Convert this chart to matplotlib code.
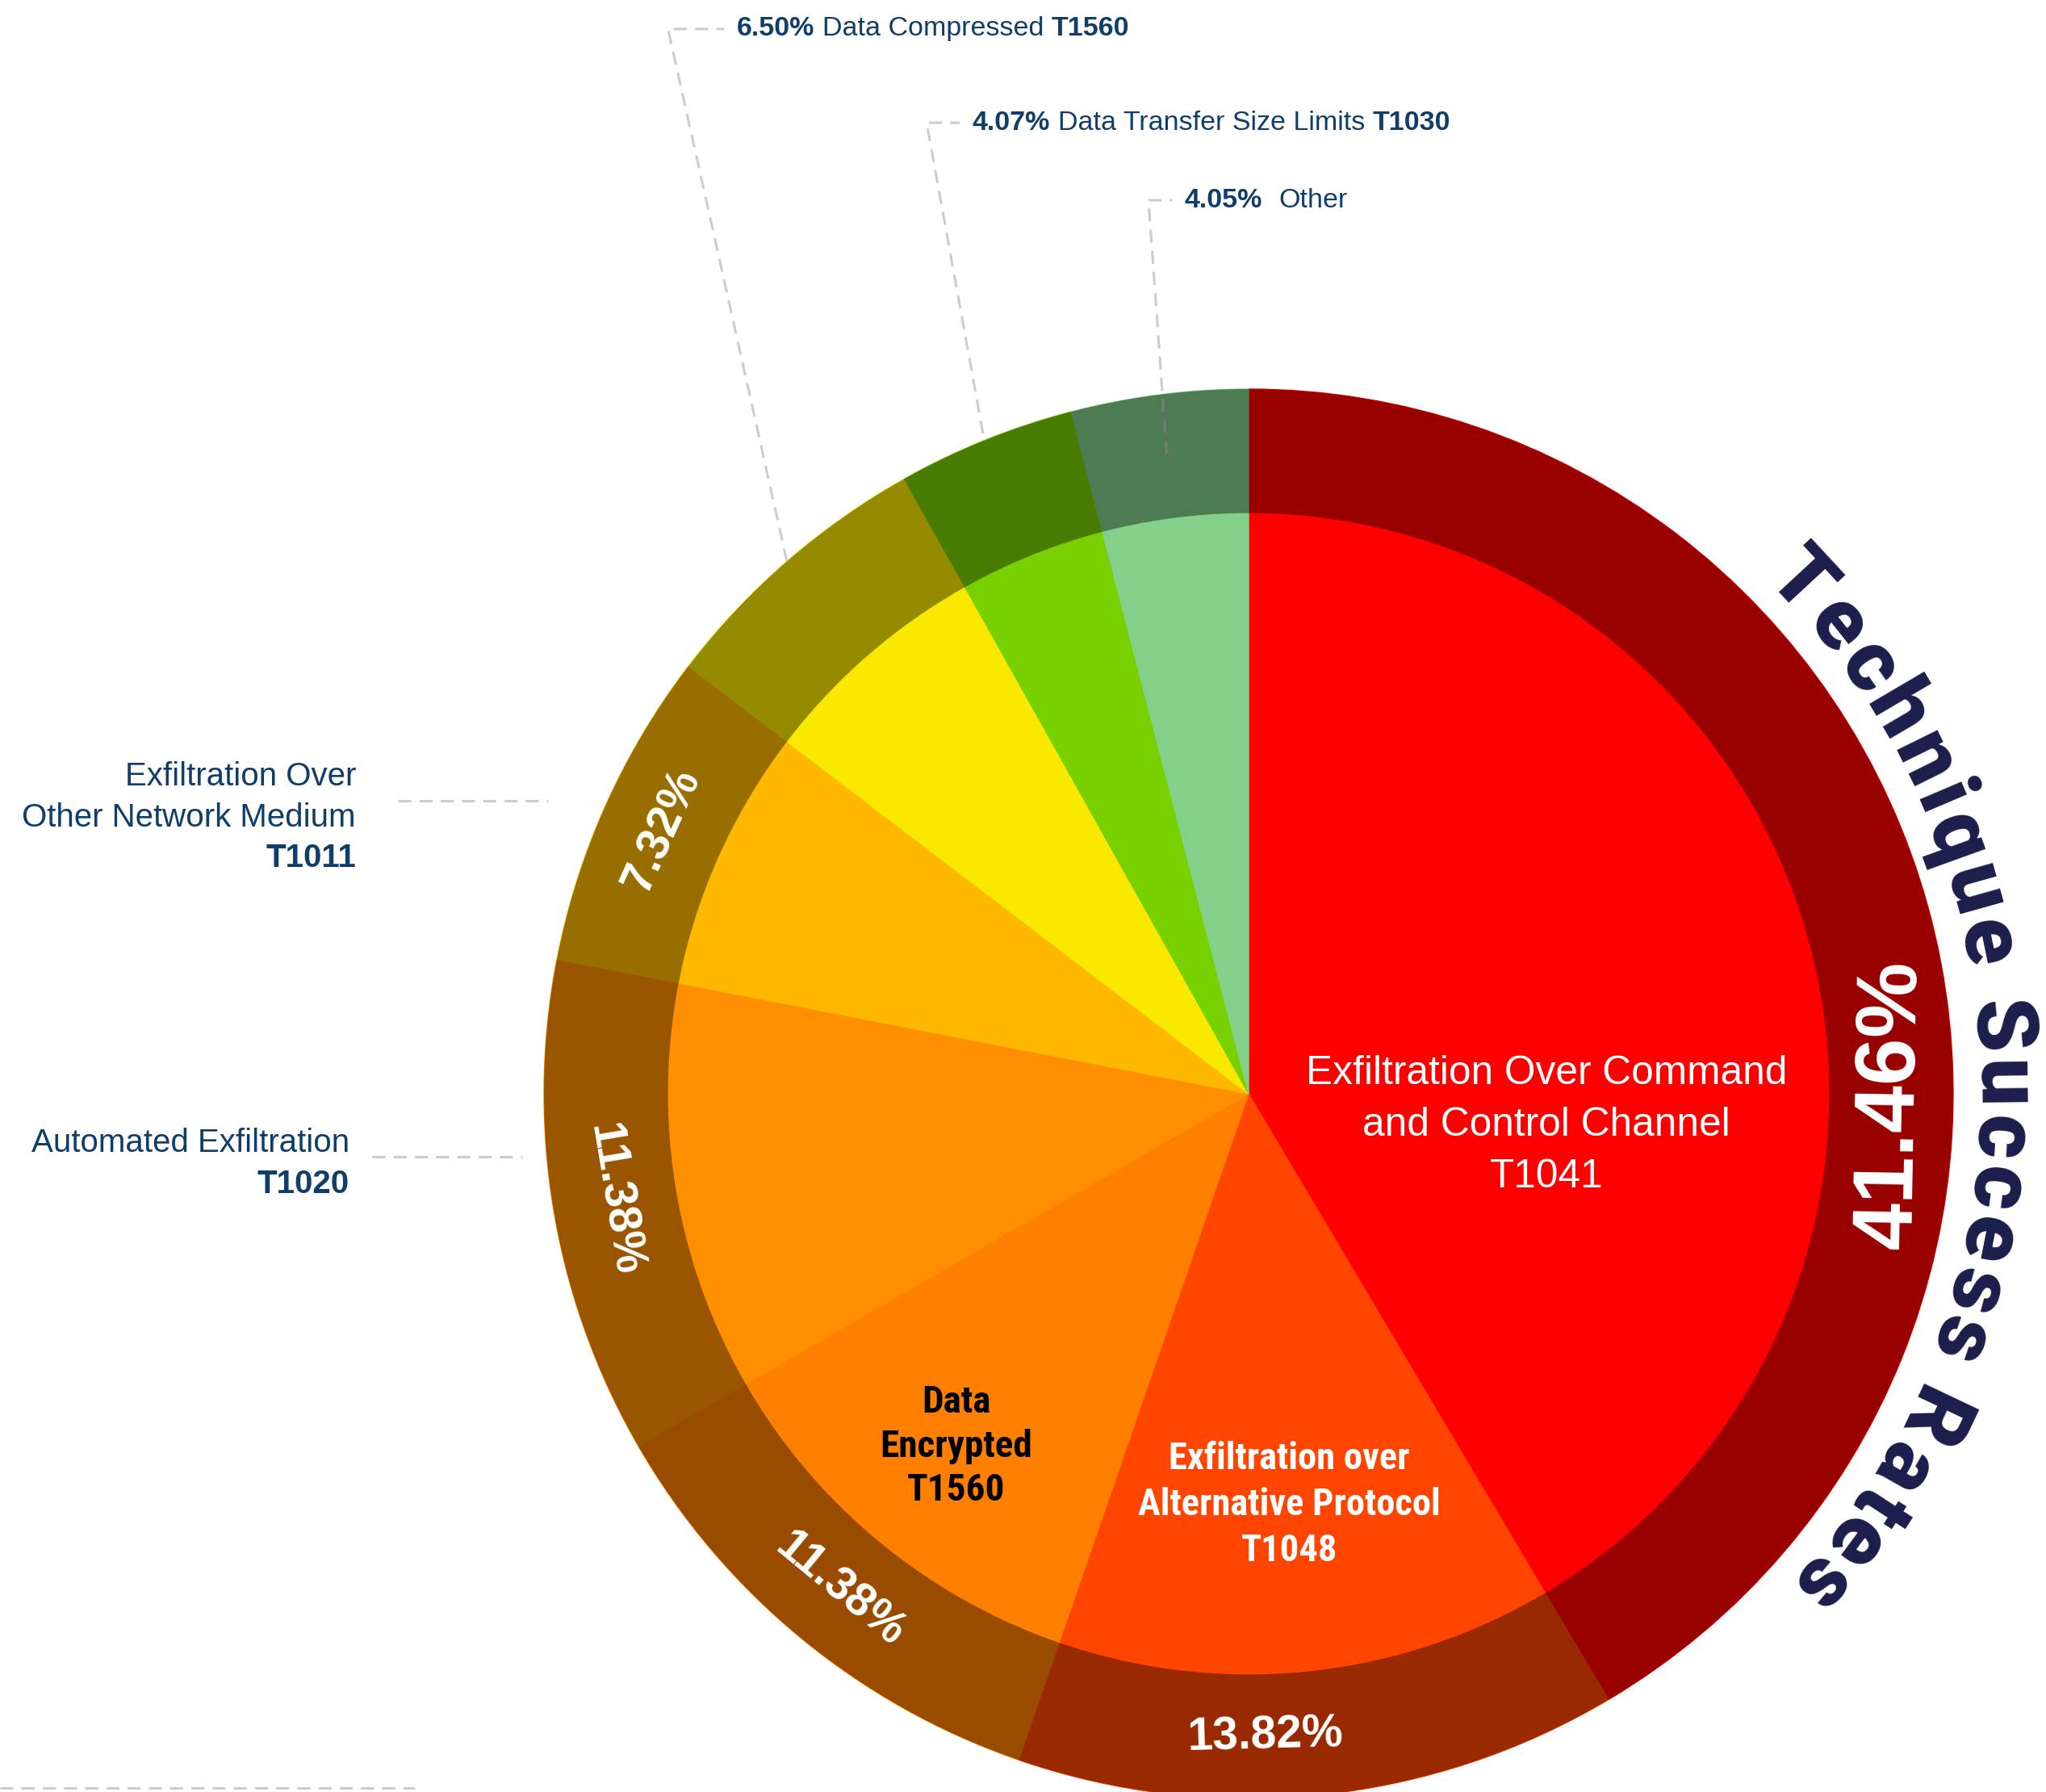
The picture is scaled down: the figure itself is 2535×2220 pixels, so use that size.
import numpy as np
import matplotlib
matplotlib.use("Agg")
import matplotlib.pyplot as plt
from matplotlib import font_manager
from matplotlib.patches import Wedge
from matplotlib.font_manager import FontProperties
from matplotlib.textpath import TextToPath

# share of successful exfiltration attempts per technique (percent)
techniques = ["Exfiltration Over Command\nand Control Channel",
              "Exfiltration over\nAlternative Protocol",
              "Data\nEncrypted",
              "Automated Exfiltration",
              "Exfiltration Over\nOther Network Medium",
              "Data Compressed",
              "Data Transfer Size Limits",
              "Other"]
technique_ids = ["T1041", "T1048", "T1560", "T1020", "T1011", "T1560", "T1030", ""]
shares = [41.46, 13.82, 11.38, 11.38, 7.32, 6.50, 4.07, 4.05]
colors = ["#FF0000", "#FF4500", "#FF7F00", "#FF8F00", "#FFB800", "#F9E800", "#78D000", "#82D08A"]
title = "Technique Success Rates"

# canvas / layout (pixels)
W, H, DPI = 2535, 2220, 100
CX, CY, RPX = 1547, 1355, 873
HOLE = 0.824          # where the darker outer band starts
NAVY = "#0F3E6A"
GREY = "#CCCCCC"

t2p = TextToPath()


def have_font(name):
    try:
        font_manager.findfont(FontProperties(family=name), fallback_to_default=False)
        return True
    except ValueError:
        return False


SANS = ["Liberation Sans", "DejaVu Sans"]
NARROW = [f for f in ["Roboto Condensed", "Liberation Sans Narrow"] if have_font(f)] + SANS
HEAVY = [f for f in ["Roboto"] if have_font(f)] + SANS


def text_px(s, family, weight, size):
    fp = FontProperties(family=family, weight=weight, size=size)
    w, _, _ = t2p.get_text_width_height_descent(s, fp, ismath=False)
    return w * DPI / 72


def fit_size(lines, family, weight, width_px):
    # font size that makes the widest line span width_px
    widest = max(text_px(s, family, weight, 10) for s in lines)
    return 10 * width_px / widest


def polar(r, deg):
    a = np.radians(deg)
    return r * np.cos(a), r * np.sin(a)


fig = plt.figure(figsize=(W / DPI, H / DPI), dpi=DPI)
ax = fig.add_axes([0, 0, 1, 1])

wedges, _ = ax.pie(shares, colors=colors, startangle=90, counterclock=False,
                   radius=1, wedgeprops=dict(linewidth=1))
for w in wedges:
    w.set_edgecolor(w.get_facecolor())
mids = [(w.theta1 + w.theta2) / 2 for w in wedges]

# darker band around the edge
ax.add_patch(Wedge((0, 0), 1.0, 0, 360, width=1 - HOLE, facecolor="black",
                   alpha=0.4, linewidth=0, zorder=2.5))

ax.set_xlim(-CX / RPX, (W - CX) / RPX)
ax.set_ylim(-(H - CY) / RPX, CY / RPX)
ax.set_aspect("equal")
ax.axis("off")

dash = dict(color=GREY, lw=2.2, linestyle=(0, (5.3, 3.3)), zorder=2,
            solid_capstyle="butt")

# percentages on the band for the big slices
pct_angle = {0: -1.0, 1: -88.5}
pct_size = {0: 76}
for i in range(5):
    a = pct_angle.get(i, mids[i])
    rot = (a + 90 + 180) % 360 - 180
    if rot > 90:
        rot -= 180
    elif rot < -90:
        rot += 180
    x, y = polar((1 + HOLE) / 2, a)
    ax.text(x, y, f"{shares[i]:.2f}%", color="white", fontsize=pct_size.get(i, 41),
            fontweight="bold", family=SANS, rotation=rot, rotation_mode="anchor",
            ha="center", va="center", zorder=4)

# names written inside the slices: centre, line pitch, font, weight, widest line (px), colour
inner = {0: ((0.423, -0.045), 0.0733, SANS, "normal", 595, "white"),
         1: ((0.058, -0.583), 0.0648, NARROW, "bold", 375, "white"),
         2: ((-0.415, -0.500), 0.062, NARROW, "bold", 189, "black")}
for i, ((xc, yc), pitch, fam, wt, wpx, col) in inner.items():
    lines = techniques[i].split("\n") + [technique_ids[i]]
    fs = fit_size(lines, fam, wt, wpx)
    n = len(lines)
    for k, line in enumerate(lines):
        ax.text(xc, yc + (n - 1) / 2 * pitch - k * pitch, line, color=col,
                family=fam, fontweight=wt, fontsize=fs, ha="center", va="center",
                zorder=4)


def callout(x, y, i, fs, gap=0.28):
    t = ax.text(x, y, f"{shares[i]:.2f}%", color=NAVY, fontsize=fs, family=SANS,
                fontweight="bold", ha="left", va="center", zorder=4)
    parts = [(techniques[i], "normal", gap), (technique_ids[i], "bold", 0.28)]
    for s, wt, g in parts:
        if not s:
            continue
        t = ax.annotate(s, xy=(1, 0), xycoords=t, xytext=(fs * g, 0),
                        textcoords="offset points", color=NAVY, fontsize=fs,
                        family=SANS, fontweight=wt, ha="left", va="bottom", zorder=4)


# small slices: labels across the top with elbow leaders
top = {5: (1.0, (-0.824, 1.511), -0.726, 0.28),
       6: (1.01, (-0.457, 1.378), -0.392, 0.28),
       7: (0.915, (-0.142, 1.268), -0.0905, 0.6)}
for i, (r0, (ex, ey), tx, gap) in top.items():
    sx, sy = polar(r0, mids[i])
    ax.plot([sx, ex, tx - 0.018], [sy, ey, ey], **dash)
    callout(tx, ey, i, 24.5, gap)

# labels on the left side
side = {4: (-1.267, 0.450, (-1.207, -0.994, 0.416)),
        3: (-1.276, -0.070, (-1.244, -1.031, -0.089))}
for i, (tx, ty, (lx0, lx1, ly)) in side.items():
    ax.plot([lx0, lx1], [ly, ly], **dash)
    lines = techniques[i].split("\n")
    for k, line in enumerate(lines):
        ax.text(tx, ty - k * 0.058, line, color=NAVY, fontsize=29, family=SANS,
                ha="right", va="center", zorder=4)
    ax.text(tx, ty - len(lines) * 0.058, technique_ids[i], color=NAVY, fontsize=29,
            family=SANS, fontweight="bold", ha="right", va="center", zorder=4)

# leader running off the bottom edge
x0 = ax.get_xlim()[0]
ax.plot([x0, -1.183], [-0.985, -0.985], **dash)

# title bent around the right side of the ring
title_fs, title_wt = 76, "black"
fp = FontProperties(family=HEAVY, weight=title_wt, size=title_fs)
r_base, title_mid = 1.035, 1.2
span_deg = 83.3       # angle between the first and last letter


def width_r(s):
    return text_px(s, HEAVY, title_wt, title_fs) / RPX


centres = [width_r(title[:i + 1]) - width_r(ch) / 2 for i, ch in enumerate(title)]
track = (np.radians(span_deg) * r_base - (centres[-1] - centres[0])) / (len(title) - 1)
centres = [c + track * i for i, c in enumerate(centres)]
mid_c = (centres[0] + centres[-1]) / 2
for ch, c in zip(title, centres):
    if ch == " ":
        continue
    ang = title_mid + np.degrees((mid_c - c) / r_base)
    x, y = polar(r_base, ang)
    ax.text(x, y, ch, fontproperties=fp, color="#1B1E4B", rotation=ang - 90,
            rotation_mode="anchor", ha="center", va="baseline", zorder=4)

fig.savefig("out.png", dpi=DPI, facecolor="white")
